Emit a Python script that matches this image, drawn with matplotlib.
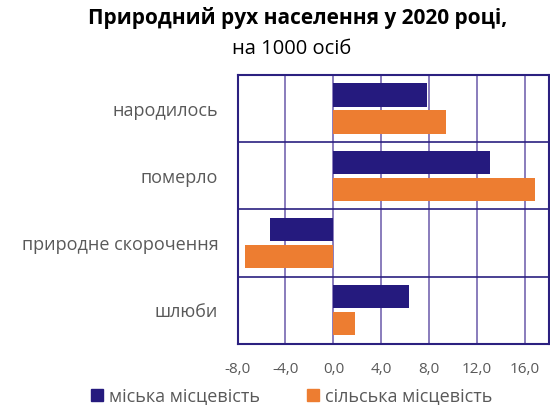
import numpy as np
import matplotlib.pyplot as plt
from matplotlib.patches import Patch

# data (per 1000 persons)
categories = ["народилось", "померло", "природне скорочення", "шлюби"]
urban = [7.8, 13.1, -5.3, 6.3]
rural = [9.4, 16.8, -7.4, 1.8]
xticks = [-8, -4, 0, 4, 8, 12, 16]

c_urban = "#251a7e"
c_rural = "#ed7d31"
c_grid = "#7566b0"
c_frame = "#2b2080"

plt.rcParams['font.family'] = ['Open Sans', 'DejaVu Sans']

fig = plt.figure(figsize=(5.5, 4.05), dpi=100)
ax = fig.add_axes([0.432, 0.151, 0.566, 0.664])

y = np.arange(len(categories))
h = 0.345
ax.barh(y - 0.2, urban, height=h, color=c_urban, zorder=3)
ax.barh(y + 0.2, rural, height=h, color=c_rural, zorder=3)

ax.set_xlim(-8, 18)
ax.set_ylim(len(categories) - 0.5, -0.5)
ax.set_xticks(xticks)
ax.set_xticklabels([("%.1f" % v).replace(".", ",") for v in xticks])
ax.set_yticks(y)
ax.set_yticklabels(categories)

for v in xticks:
    ax.axvline(v, color=c_grid, lw=1.2, zorder=1)
for b in np.arange(0.5, len(categories) - 0.5, 1):
    ax.axhline(b, color=c_frame, lw=1.2, zorder=1)
for s in ax.spines.values():
    s.set_color(c_frame)
    s.set_linewidth(1.5)

ax.tick_params(axis='x', length=0, pad=13, labelsize=11, labelcolor="#595959")
ax.tick_params(axis='y', length=0, pad=14, labelsize=13, labelcolor="#595959")

fig.text(0.541, 0.955, "Природний рух населення у 2020 році,", ha='center', va='center',
         fontsize=15, fontweight='bold', color="#000000")
fig.text(0.531, 0.879, "на 1000 осіб", ha='center', va='center', fontsize=14.5, color="#000000")

handles = [Patch(color=c_urban, label="міська місцевість"),
           Patch(color=c_rural, label="сільська місцевість")]
fig.legend(handles=handles, loc='center', bbox_to_anchor=(0.53, 0.022), ncol=2, frameon=False,
           fontsize=13, handlelength=0.65, handleheight=0.65, handletextpad=0.35,
           columnspacing=2.6, labelcolor="#595959", borderpad=0)

fig.savefig("out.png", dpi=100)
